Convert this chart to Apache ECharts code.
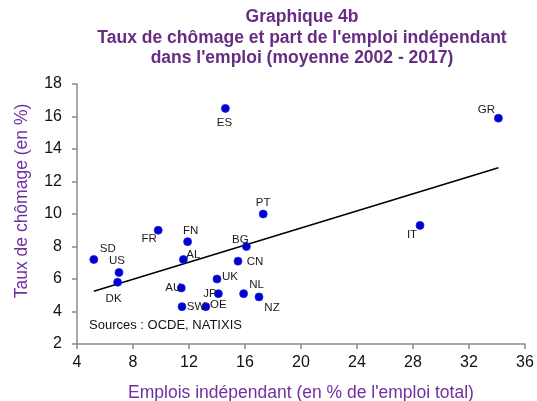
<!DOCTYPE html>
<html>
<head>
<meta charset="utf-8">
<script src="https://cdn.jsdelivr.net/npm/echarts@6/dist/echarts.min.js"></script>
<style>html,body{margin:0;padding:0;background:#fff}#c{width:537px;height:401px}</style>
</head>
<body>
<div id="c"></div>
<script>
// Data
var countries = ['SD','US','DK','FR','FN','AL','AU','SW','OE','JP','UK','CN','BG','NL','NZ','ES','PT','GR','IT'];
var selfEmp   = [5.2, 7.0, 6.9, 9.8, 11.9, 11.6, 11.45, 11.5, 13.2, 14.1, 14.0, 15.5, 16.1, 15.9, 17.0, 14.6, 17.3, 34.1, 28.5];
var unemp     = [7.2, 6.4, 5.8, 9.0, 8.3, 7.2, 5.45, 4.3, 4.3, 5.1, 6.0, 7.1, 8.0, 5.1, 4.9, 16.5, 10.0, 15.9, 9.3];
var trendX = [5.2, 34.1];
var trendY = [5.25, 12.85];
var xTicks = [4, 8, 12, 16, 20, 24, 28, 32, 36];
var yTicks = [2, 4, 6, 8, 10, 12, 14, 16, 18];

// Label placement (style only)
var labelOffset = {
  SD:[14,-11], US:[-2,-12], DK:[-4,17], FR:[-9,9], FN:[3,-11], AL:[10,-5],
  AU:[-8,0], SW:[14,0], OE:[12.5,-1.5], JP:[-8.5,0], UK:[13,-2], CN:[17,1],
  BG:[-6,-7], NL:[13,-9], NZ:[13,11], ES:[-1,14], PT:[0,-11], GR:[-12,-8], IT:[-8,9]
};

var font = 'Liberation Sans, Arial, sans-serif';
var pts = countries.map(function(n,i){
  return {
    name:n, value:[selfEmp[i], unemp[i]],
    label:{show:true, position:'inside', offset:labelOffset[n], formatter:n,
           color:'#1a1a1a', fontSize:11.5, fontFamily:font}
  };
});
var trend = trendX.map(function(x,i){ return [x, trendY[i]]; });

var chart = echarts.init(document.getElementById('c'), null, {renderer:'canvas'});
chart.setOption({
  animation:false,
  backgroundColor:'#fff',
  title:{
    text:'Graphique 4b\nTaux de chômage et part de l\'emploi indépendant\ndans l\'emploi (moyenne 2002 - 2017)',
    left:297, top:2, textAlign:'center',
    textStyle:{color:'#662D82', fontSize:17.5, fontWeight:'bold', lineHeight:20.5, fontFamily:font}
  },
  grid:{left:77, right:12, top:84, bottom:57, containLabel:false, outerBoundsMode:'none'},
  xAxis:{
    type:'value', min:xTicks[0], max:xTicks[xTicks.length-1], interval:4,
    axisLine:{show:true, lineStyle:{color:'#8c8c8c', width:1.5}},
    axisTick:{show:true, length:5, lineStyle:{color:'#8c8c8c', width:1.5}},
    axisLabel:{color:'#111', fontSize:16, margin:11, fontFamily:font},
    splitLine:{show:false},
    name:'Emplois indépendant (en % de l\'emploi total)', nameLocation:'middle', nameGap:40,
    nameTextStyle:{color:'#7030A0', fontSize:17.5, fontFamily:font}
  },
  yAxis:{
    type:'value', min:yTicks[0], max:yTicks[yTicks.length-1], interval:2,
    axisLine:{show:true, lineStyle:{color:'#8c8c8c', width:1.5}},
    axisTick:{show:true, length:5, lineStyle:{color:'#8c8c8c', width:1.5}},
    axisLabel:{color:'#111', fontSize:16, margin:15, fontFamily:font},
    splitLine:{show:false}
  },
  graphic:[
    {type:'text', x:22, y:201, rotation:Math.PI/2,
     style:{text:'Taux de chômage (en %)', fill:'#7030A0', font:'17.5px '+font, align:'center', verticalAlign:'middle'}},
    {type:'text', left:89, top:319,
     style:{text:'Sources : OCDE, NATIXIS', fill:'#111', font:'13px '+font}}
  ],
  series:[
    {type:'line', data:trend, symbol:'none', lineStyle:{color:'#000', width:1.6}, z:1},
    {type:'scatter', data:pts, symbol:'circle', symbolSize:8,
     itemStyle:{color:'#0000CC', borderColor:'#2020ee', borderWidth:0.8, opacity:1}, z:3}
  ]
});
</script>
</body>
</html>
